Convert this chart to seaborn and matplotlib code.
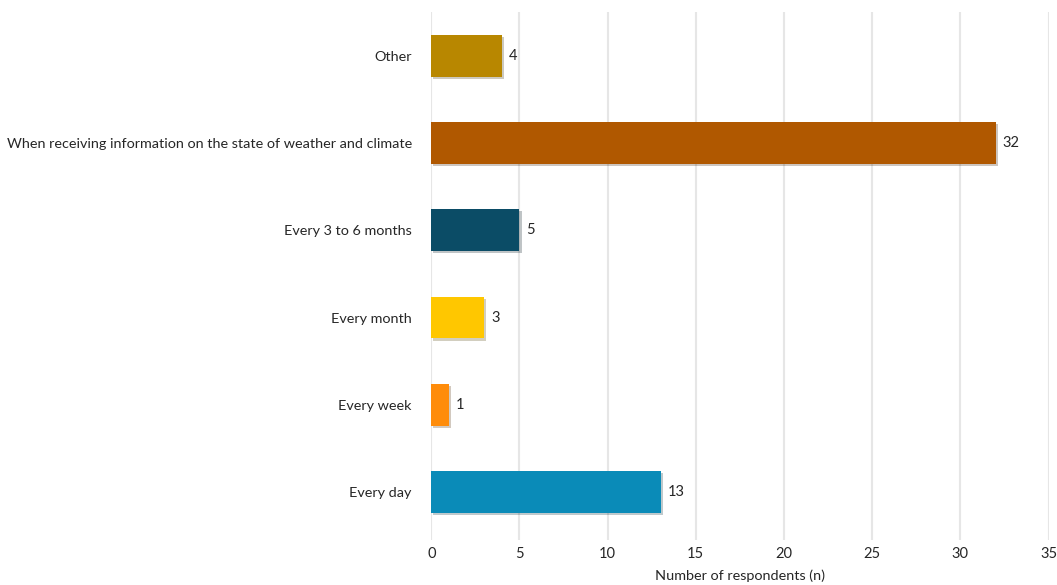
import matplotlib
matplotlib.use("Agg")
import matplotlib.pyplot as plt
import matplotlib.patheffects as pe
import pandas as pd
import seaborn as sns

categories = [
    "Other",
    "When receiving information on the state of weather and climate",
    "Every 3 to 6 months",
    "Every month",
    "Every week",
    "Every day",
]
counts = [4, 32, 5, 3, 1, 13]
colors = ["#B88700", "#B05800", "#0B4C66", "#FFC700", "#FF8C0A", "#0A8BB8"]


def main() -> None:
    df = pd.DataFrame({"category": categories, "count": counts})

    sns.set_theme(style="white")
    plt.rcParams["font.family"] = ["Lato", "DejaVu Sans"]

    fig = plt.figure(figsize=(10.57, 5.85), dpi=100)
    ax = fig.add_axes([0.408, 0.077, 0.584, 0.902])

    sns.barplot(
        data=df, x="count", y="category", hue="category",
        palette=colors, order=categories, width=0.48,
        legend=False, ax=ax, saturation=1, linewidth=0,
    )
    for bar in ax.patches:
        bar.set_edgecolor("none")
        bar.set_path_effects([
            pe.SimplePatchShadow(offset=(1.5, -1.5), alpha=0.25),
            pe.Normal(),
        ])
    for container in ax.containers:
        ax.bar_label(container, padding=5, fontsize=10.5)

    ax.set_xlim(0, 35)
    ax.set_ylim(5.55, -0.5)
    ax.set_xticks(range(0, 36, 5))
    ax.grid(axis="x", color="#e6e6e6", linewidth=1.5)
    ax.set_axisbelow(True)
    sns.despine(ax=ax, left=True, bottom=True, top=True, right=True)
    ax.tick_params(axis="y", length=0, labelsize=10.4, pad=14)
    ax.tick_params(axis="x", length=0, labelsize=10.5, pad=5)
    ax.set_ylabel("")
    ax.set_xlabel("Number of respondents (n)", fontsize=10.4, labelpad=6)

    fig.savefig("out.png", dpi=100)


if __name__ == "__main__":
    main()
